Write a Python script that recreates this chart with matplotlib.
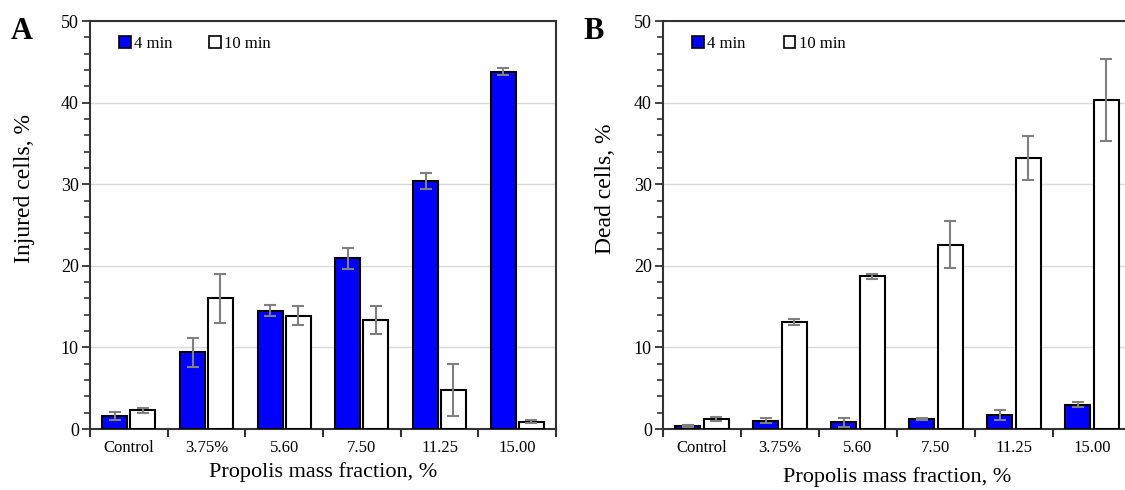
import matplotlib
matplotlib.use("Agg")
import matplotlib.pyplot as plt
import numpy as np
from matplotlib.patches import Patch
from matplotlib.ticker import MultipleLocator, FixedLocator

plt.rcParams['font.family'] = ['Liberation Serif', 'DejaVu Serif']

categories = ['Control', '3.75%', '5.60', '7.50', '11.25', '15.00']

# panel A - injured cells
injured_4 = [1.6, 9.4, 14.5, 20.9, 30.4, 43.8]
injured_4_err = [0.5, 1.8, 0.7, 1.3, 1.0, 0.4]
injured_10 = [2.3, 16.0, 13.9, 13.4, 4.8, 0.9]
injured_10_err = [0.3, 3.0, 1.2, 1.7, 3.2, 0.2]

# panel B - dead cells
dead_4 = [0.35, 1.0, 0.8, 1.2, 1.7, 2.95]
dead_4_err = [0.1, 0.3, 0.5, 0.15, 0.6, 0.3]
dead_10 = [1.2, 13.1, 18.7, 22.6, 33.2, 40.3]
dead_10_err = [0.25, 0.35, 0.35, 2.9, 2.7, 5.0]

blue = '#0000ff'
err_kw = dict(ecolor='#808080', elinewidth=1.5, capsize=4, capthick=1.5)

fig = plt.figure(figsize=(11.25, 4.9), dpi=100)
axA = fig.add_axes([90 / 1125, 61 / 490, 466 / 1125, 408 / 490])
axB = fig.add_axes([663 / 1125, 61 / 490, 468 / 1125, 408 / 490])


def draw(ax, v4, e4, v10, e10, ylabel, letter, xlab_pad, colsp, ylab_x):
    x = np.arange(len(categories))
    w = 0.32
    ax.bar(x - 0.18, v4, w, color=blue, edgecolor='black', linewidth=1.5,
           yerr=e4, error_kw=err_kw, zorder=3)
    ax.bar(x + 0.18, v10, w, color='white', edgecolor='black', linewidth=1.5,
           yerr=e10, error_kw=err_kw, zorder=3)
    ax.set_xlim(-0.5, len(categories) - 0.5)
    ax.set_ylim(0, 50)
    ax.yaxis.set_major_locator(MultipleLocator(10))
    ax.yaxis.set_minor_locator(MultipleLocator(2))
    ax.xaxis.set_major_locator(FixedLocator(np.arange(-0.5, len(categories), 1)))
    ax.set_xticklabels([])
    ax.xaxis.set_minor_locator(FixedLocator(x))
    ax.set_xticklabels(categories, minor=True, fontsize=12)
    ax.tick_params(axis='x', which='minor', length=0, pad=8)
    ax.tick_params(axis='x', which='major', direction='out', length=6, width=1.5, color='#333333')
    ax.tick_params(axis='y', which='major', direction='out', length=6, width=1.3,
                   labelsize=13, color='#333333', pad=2)
    ax.tick_params(axis='y', which='minor', direction='out', length=4, width=1.2, color='#333333')
    for s in ax.spines.values():
        s.set_linewidth(1.5)
        s.set_color('#333333')
    ax.grid(axis='y', which='major', color='#d9d9d9', linewidth=1, zorder=0)
    ax.set_axisbelow(True)
    ax.set_ylabel(ylabel, fontsize=17)
    ax.yaxis.set_label_coords(ylab_x, 0.59)
    ax.set_xlabel('Propolis mass fraction, %', fontsize=16, labelpad=xlab_pad)
    handles = [Patch(facecolor=blue, edgecolor='black', linewidth=1.2),
               Patch(facecolor='white', edgecolor='black', linewidth=1.2)]
    ax.legend(handles, ['4 min', '10 min'], loc='upper left', bbox_to_anchor=(0.03, 1.0),
              ncol=2, frameon=False, fontsize=12, handlelength=0.7, handleheight=0.7,
              handletextpad=0.2, columnspacing=colsp)
    ax.text(-0.17, 1.01, letter, transform=ax.transAxes, fontsize=22,
            fontweight='bold', va='top', ha='left')


draw(axA, injured_4, injured_4_err, injured_10, injured_10_err, 'Injured cells, %', 'A', 4, 2.2, -0.118)
draw(axB, dead_4, dead_4_err, dead_10, dead_10_err, 'Dead cells, %', 'B', 8, 2.3, -0.1)

fig.savefig('out.png', dpi=100)
